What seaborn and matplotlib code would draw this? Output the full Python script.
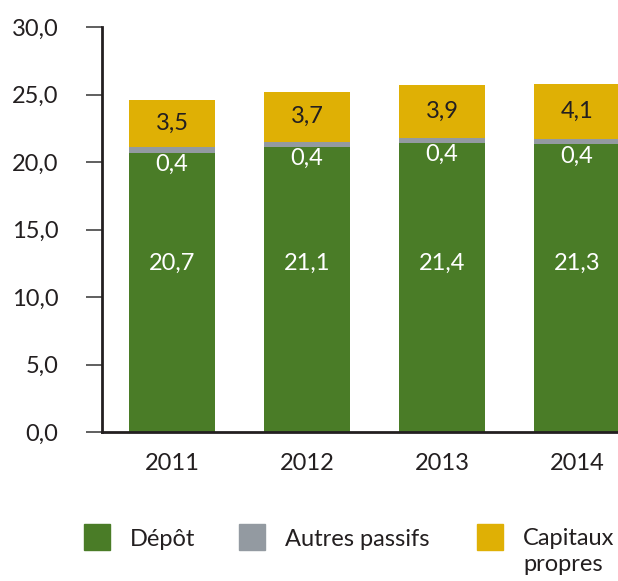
import matplotlib
matplotlib.use("Agg")
import matplotlib.pyplot as plt
import matplotlib.patches as mpatches
import numpy as np
import pandas as pd
import seaborn as sns

# ── Data ─────────────────────────────────────────────────────────────────────
years = ["2011", "2012", "2013", "2014"]
depot = [20.7, 21.1, 21.4, 21.3]
autres = [0.4, 0.4, 0.4, 0.4]
capitaux = [3.5, 3.7, 3.9, 4.1]

series_labels = ["Dépôt", "Autres passifs", "Capitaux\npropres"]
colors = ["#4a7c27", "#939aa1", "#dfb005"]
ink = "#231f20"
FS = 17

sns.set_theme(style="white")
plt.rcParams["font.family"] = ["Lato", "DejaVu Sans"]


def fr(v):
    return f"{v:.1f}".replace(".", ",")


df = pd.DataFrame({"year": years, "depot": depot, "autres": autres, "capitaux": capitaux})
df["lvl1"] = df["depot"]
df["lvl2"] = df["depot"] + df["autres"]
df["lvl3"] = df["lvl2"] + df["capitaux"]

fig = plt.figure(figsize=(6.18, 5.81), dpi=100)
ax = fig.add_axes([102 / 618, 149 / 581, 1 - 102 / 618, 405 / 581])

# stacked look: draw cumulative totals, tallest first
for col, color in zip(["lvl3", "lvl2", "lvl1"], colors[::-1]):
    sns.barplot(data=df, x="year", y=col, color=color, width=0.644,
                saturation=1, ax=ax, linewidth=0, order=years)

# labels
for i in range(len(years)):
    ax.text(i, 12.5, fr(depot[i]), ha="center", va="center", color="white", fontsize=FS)
    ax.text(i, depot[i] - 0.85, fr(autres[i]), ha="center", va="center", color="white", fontsize=FS)
    ax.text(i, depot[i] + autres[i] + capitaux[i] / 2, fr(capitaux[i]),
            ha="center", va="center", color=ink, fontsize=FS)

ax.set_xlim(-0.5185, 3.3037)
ax.set_ylim(0, 30)
ax.set_yticks(np.arange(0, 31, 5))
ax.set_yticklabels([fr(v) for v in np.arange(0, 31, 5)])
ax.set_xlabel("")
ax.set_ylabel("")

for s in ["top", "right"]:
    ax.spines[s].set_visible(False)
for s in ["left", "bottom"]:
    ax.spines[s].set_color(ink)
    ax.spines[s].set_linewidth(2)

ax.tick_params(axis="y", length=11.5, width=1.2, color="#444444", pad=20,
               labelsize=FS, labelcolor=ink, left=True, direction="out")
ax.tick_params(axis="x", length=0, pad=15, labelsize=FS, labelcolor=ink)

# legend (drawn manually to match layout)
leg_x = [84, 239, 477]
for x0, color, lab in zip(leg_x, colors, series_labels):
    fig.patches.append(mpatches.Rectangle((x0 / 618, 1 - 550 / 581), 26 / 618, 26 / 581,
                                          transform=fig.transFigure, color=color))
    fig.text((x0 + 46) / 618, 1 - 539 / 581, lab, ha="left", va="top" if "\n" in lab else "center",
             fontsize=FS, color=ink, linespacing=1.3)

fig.texts[-1].set_y(1 - 528 / 581)

plt.savefig("out.png", dpi=100)
plt.close()
